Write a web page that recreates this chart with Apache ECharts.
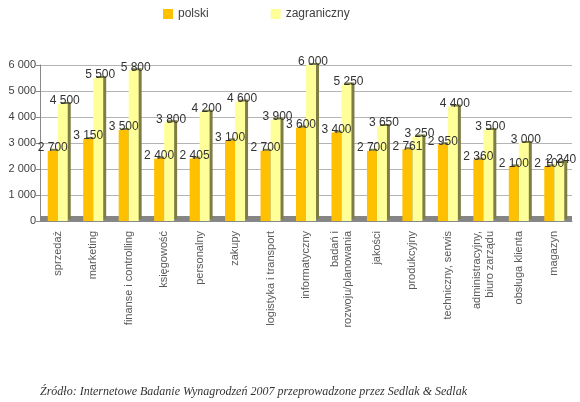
<!DOCTYPE html>
<html>
<head>
<meta charset="utf-8">
<title>Wynagrodzenia</title>
<script src="https://cdn.jsdelivr.net/npm/echarts@6/dist/echarts.min.js"></script>
<style>
	html, body { margin: 0; padding: 0; background: #fff; }
	#chart { width: 580px; height: 402px; }
</style>
</head>
<body>
<div id="chart"></div>
<script type="text/javascript">
	// dane z wykresu
	var categories = ['sprzedaż', 'marketing', 'finanse i controlling', 'księgowość', 'personalny', 'zakupy',
		'logistyka i transport', 'informatyczny', 'badań i\nrozwoju/planowania', 'jakości', 'produkcyjny',
		'techniczny, serwis', 'administracyjny,\nbiuro zarządu', 'obsługa klienta', 'magazyn'];
	var polski = [2700, 3150, 3500, 2400, 2405, 3100, 2700, 3600, 3400, 2700, 2761, 2950, 2360, 2100, 2100];
	var zagraniczny = [4500, 5500, 5800, 3800, 4200, 4600, 3900, 6000, 5250, 3650, 3250, 4400, 3500, 3000, 2240];
	var yTicks = [0, 1000, 2000, 3000, 4000, 5000, 6000];

	function fmt(v) {
		// separator tysięcy: spacja
		return String(v).replace(/\B(?=(\d{3})+(?!\d))/g, ' ');
	}

	var myChart = echarts.init(document.getElementById('chart'));

	var option = {
		animation: false,
		textStyle: { fontFamily: 'Liberation Sans' },
		title: {
			text: 'Źródło: Internetowe Badanie Wynagrodzeń 2007 przeprowadzone przez Sedlak & Sedlak',
			left: 35,
			bottom: -1,
			textStyle: {
				fontFamily: 'Liberation Serif',
				fontStyle: 'italic',
				fontWeight: 'normal',
				fontSize: 12,
				color: '#333'
			}
		},
		legend: {
			top: 3,
			left: 158,
			itemWidth: 10,
			itemHeight: 10,
			itemGap: 62,
			icon: 'rect',
			textStyle: { fontSize: 12, color: '#404040', fontFamily: 'Liberation Sans' },
			data: ['polski', 'zagraniczny']
		},
		grid: {
			left: 40,
			right: 8,
			top: 65,
			bottom: 181
		},
		xAxis: {
			type: 'category',
			data: categories,
			axisLine: { lineStyle: { color: '#888' } },
			axisTick: { lineStyle: { color: '#888' }, length: 6 },
			axisLabel: {
				interval: 0,
				rotate: 90,
				margin: 10,
				fontSize: 11,
				lineHeight: 13,
				color: '#595959'
			}
		},
		yAxis: {
			type: 'value',
			min: yTicks[0],
			max: yTicks[yTicks.length - 1],
			interval: 1000,
			axisLine: { show: true, lineStyle: { color: '#888' } },
			axisTick: { show: true, length: 4, lineStyle: { color: '#888' } },
			axisLabel: {
				fontSize: 11,
				color: '#404040',
				margin: 4,
				formatter: function(v) { return fmt(v); }
			},
			splitLine: { lineStyle: { color: '#b4b4b4' } }
		},
		series: [
			{
				name: 'polski',
				type: 'bar',
				data: polski,
				barWidth: 10,
				barGap: '0%',
				itemStyle: {
					color: '#FFC000',
					shadowColor: '#7d7d45',
					shadowOffsetX: 3,
					shadowOffsetY: -2,
					shadowBlur: 0
				},
				label: {
					show: true,
					position: 'top',
					distance: -3,
					fontSize: 12,
					color: '#333',
					formatter: function(p) { return fmt(p.value); }
				},
				markArea: {
					silent: true,
					itemStyle: { color: '#858585' },
					data: [[{ yAxis: 0 }, { yAxis: 190 }]]
				}
			},
			{
				name: 'zagraniczny',
				type: 'bar',
				data: zagraniczny,
				barWidth: 10,
				itemStyle: {
					color: '#FFFF99',
					shadowColor: '#7d7d45',
					shadowOffsetX: 3,
					shadowOffsetY: -2,
					shadowBlur: 0
				},
				label: {
					show: true,
					position: 'top',
					distance: -3,
					offset: [2, 0],
					fontSize: 12,
					color: '#333',
					formatter: function(p) { return fmt(p.value); }
				}
			}
		]
	};
	myChart.setOption(option);
</script>
</body>
</html>
